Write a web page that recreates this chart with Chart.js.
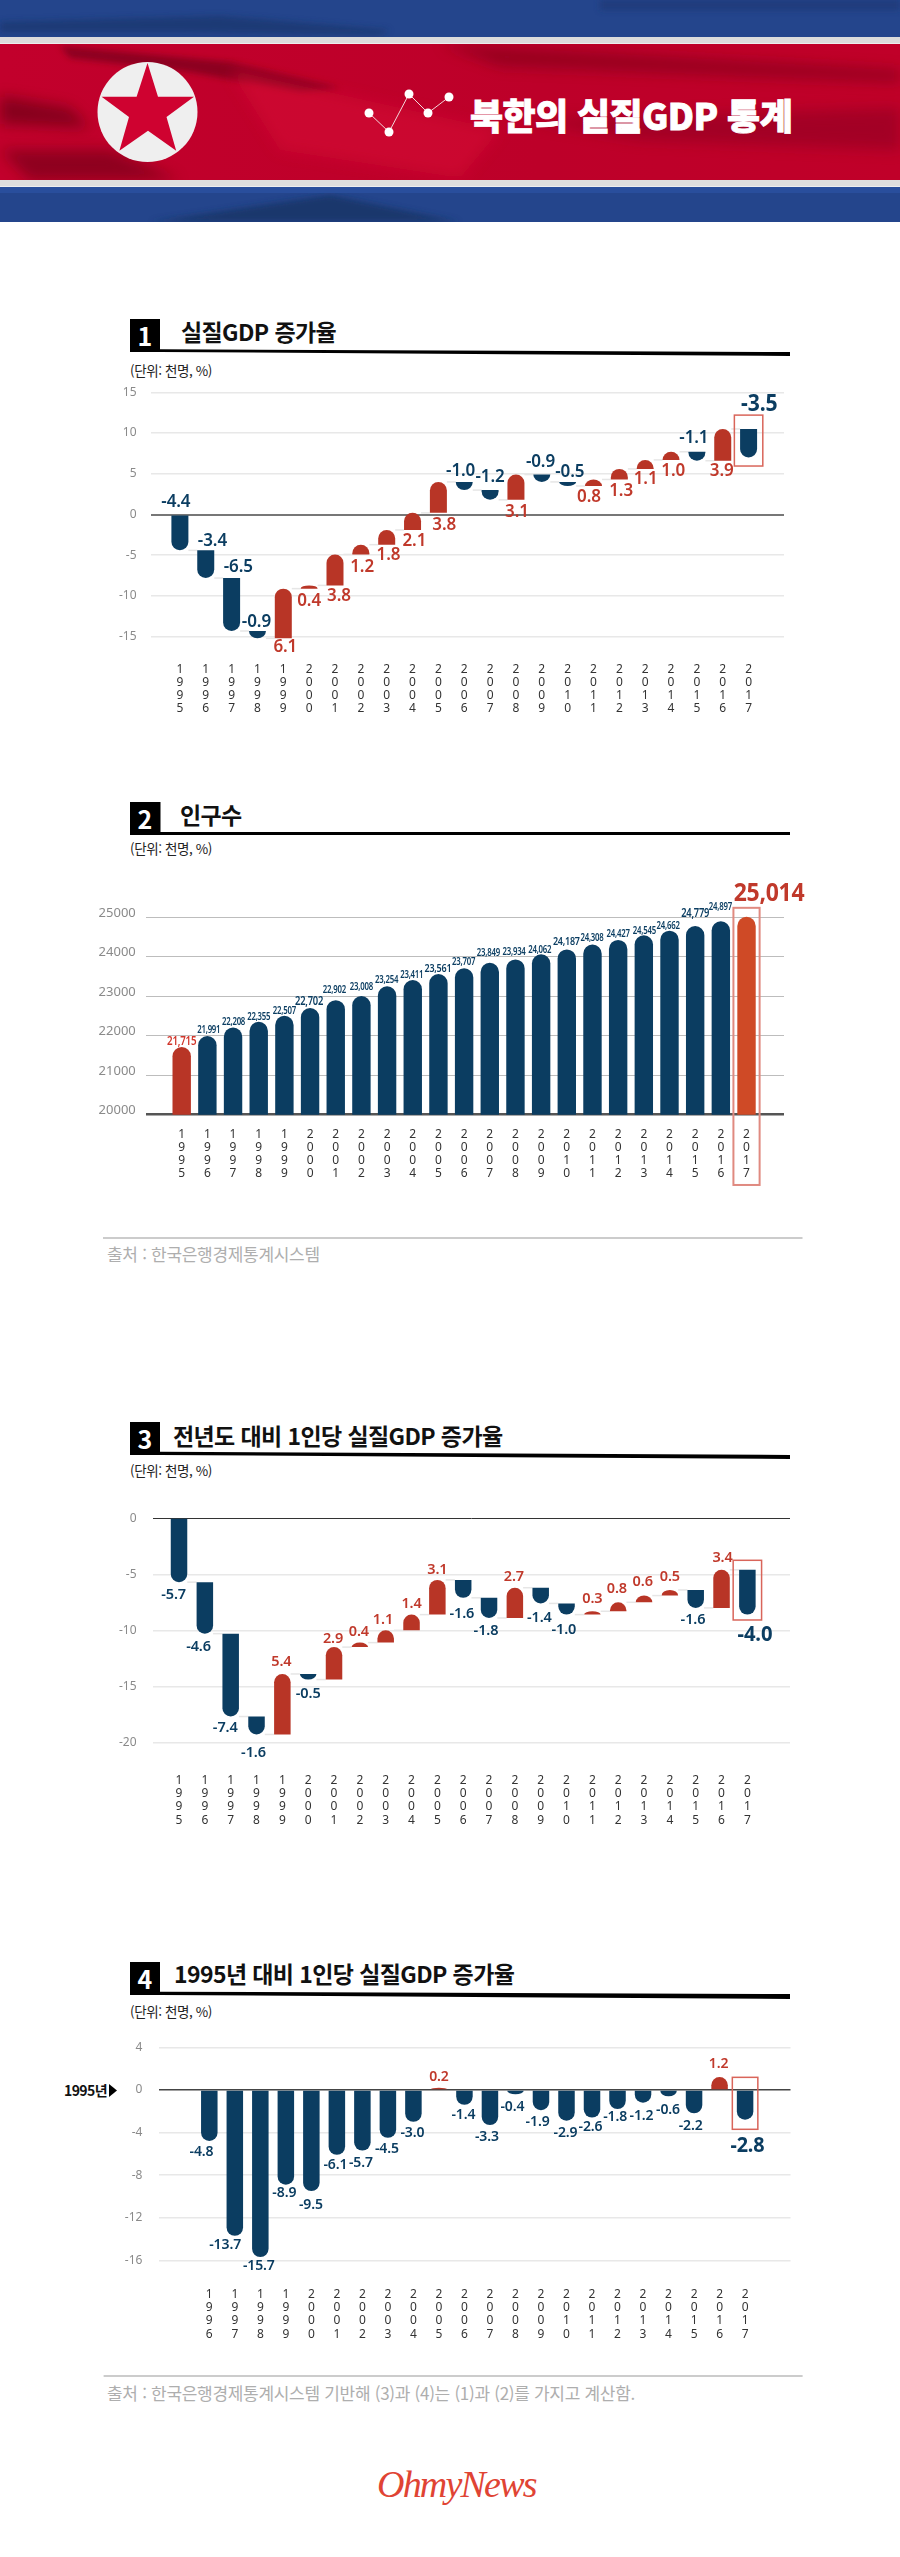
<!DOCTYPE html>
<html lang="ko">
<head>
<meta charset="utf-8">
<title>북한의 실질GDP 통계</title>
<script src="https://cdn.jsdelivr.net/npm/chart.js@4"></script>
<style>
  html, body { margin: 0; padding: 0; background: #fff; }
  body { position: relative; width: 900px; height: 2557px; overflow: hidden; font-family: "Noto Sans CJK KR", "Noto Sans", sans-serif; }
  canvas { position: absolute; left: 0; }
  svg.deco { position: absolute; left: 0; top: 0; }
  .t { position: absolute; white-space: nowrap; line-height: 1; }
  .num { color: #fff; font-weight: 700; font-size: 25px; width: 30px; text-align: center; left: 130px; }
  .head { color: #111; font-weight: 700; font-size: 23px; letter-spacing: -0.6px; }
  .unit { color: #222; font-size: 13.5px; left: 130px; letter-spacing: -0.4px; }
  .src { color: #aeaeae; font-size: 17px; left: 107px; letter-spacing: -0.3px; }
</style>
</head>
<body>
<svg class="deco" width="900" height="2557" viewBox="0 0 900 2557">
  <defs>
    <filter id="b1" x="-20%" y="-100%" width="140%" height="300%"><feGaussianBlur stdDeviation="7"/></filter>
    <filter id="b2" x="-20%" y="-100%" width="140%" height="300%"><feGaussianBlur stdDeviation="3"/></filter>
    <clipPath id="redClip"><rect x="0" y="44" width="900" height="136"/></clipPath>
    <clipPath id="topClip"><rect x="0" y="0" width="900" height="37"/></clipPath>
    <clipPath id="botClip"><rect x="0" y="187" width="900" height="35"/></clipPath>
    <linearGradient id="redBase" x1="0" y1="0" x2="1" y2="0">
      <stop offset="0" stop-color="#c2002c"/><stop offset="0.6" stop-color="#bd0029"/><stop offset="1" stop-color="#c00029"/>
    </linearGradient>
  </defs>
  <rect x="0" y="0" width="900" height="37" fill="#24458c"/>
  <rect x="0" y="187" width="900" height="35" fill="#24458c"/>
  <g clip-path="url(#topClip)">
    <path d="M0 22 L220 16 L390 30 L380 35 L180 32 L0 32 Z" fill="#173063" opacity=".55" filter="url(#b2)"/>
    <rect x="600" y="0" width="300" height="10" fill="#1c3670" opacity=".6" filter="url(#b2)"/>
  </g>
  <g clip-path="url(#botClip)">
    <path d="M150 222 L330 195 L460 222 Z" fill="#16305f" opacity=".7" filter="url(#b2)"/>
    <rect x="0" y="187" width="900" height="6" fill="#2c52a3" opacity=".7"/>
  </g>
  <rect x="0" y="37" width="900" height="6.5" fill="#dcdcdc"/>
  <rect x="0" y="180" width="900" height="6.5" fill="#dedede"/>
  <rect x="0" y="44" width="900" height="136" fill="url(#redBase)"/>
  <g clip-path="url(#redClip)">
    <path d="M60 46 L230 62 L340 88 L300 92 L190 72 L70 58 Z" fill="#7a001c" opacity=".75" filter="url(#b2)"/>
    <path d="M0 96 L70 108 L90 128 L0 124 Z" fill="#6d0019" opacity=".7" filter="url(#b1)"/>
    <path d="M0 150 L110 150 L180 180 L30 180 Z" fill="#6d0019" opacity=".6" filter="url(#b1)"/>
    <path d="M440 44 L900 70 L900 82 L500 66 Z" fill="#86001e" opacity=".7" filter="url(#b1)"/>
    <path d="M520 120 L900 108 L900 150 L640 140 Z" fill="#8c0020" opacity=".55" filter="url(#b1)"/>
    <path d="M230 70 L500 130 L460 178 L280 150 Z" fill="#d60a35" opacity=".55" filter="url(#b1)"/>
  </g>
  <circle cx="147.5" cy="112" r="50" fill="#efefef"/>
  <polygon points="147.5,63 158,96.7 194,96.7 166.5,117 176.2,150.7 148,130.7 119.4,150.7 129,117 101.6,96.7 136.6,96.7" fill="#cf0230"/>
  <polyline points="369,113 389,132 409,94 428,113 449,97" fill="none" stroke="#f3d6da" stroke-width="1"/>
  <g fill="#fff">
    <circle cx="369" cy="113" r="4.5"/><circle cx="389" cy="132" r="4.5"/><circle cx="409" cy="94" r="4.5"/><circle cx="428" cy="113" r="4.5"/><circle cx="449" cy="97" r="4.5"/>
  </g>
  <!-- section heads -->
  <rect x="130" y="319" width="30" height="33" fill="#000"/>
  <polygon points="160,349.3 790,352 790,356 160,352" fill="#000"/>
  <rect x="130" y="802" width="30.5" height="33" fill="#000"/>
  <rect x="160" y="832" width="630" height="3" fill="#000"/>
  <rect x="130" y="1422" width="30" height="33" fill="#000"/>
  <polygon points="160,1451.7 790,1455 790,1459 160,1455" fill="#000"/>
  <rect x="130" y="1962" width="30" height="33" fill="#000"/>
  <polygon points="160,1991.7 790,1994 790,1999 160,1995" fill="#000"/>
  <!-- footers -->
  <rect x="103" y="1237" width="699.5" height="2" fill="#ccc"/>
  <rect x="103.6" y="2375" width="699" height="2" fill="#ccc"/>
  <polygon points="109,2084 109,2097 117,2090.5" fill="#000"/>
</svg>

<div class="t" style="left:470px;top:96px;color:#fff;font-weight:900;font-size:36px;letter-spacing:-0.6px;-webkit-text-stroke:0.8px #fff">북한의 실질GDP 통계</div>

<div class="t num" style="top:323px">1</div>
<div class="t head" style="left:181px;top:320px">실질GDP 증가율</div>
<div class="t unit" style="top:364px">(단위: 천명, %)</div>

<div class="t num" style="top:806px">2</div>
<div class="t head" style="left:180px;top:803px">인구수</div>
<div class="t unit" style="top:842px">(단위: 천명, %)</div>
<div class="t src" style="top:1245px">출처 : 한국은행경제통계시스템</div>

<div class="t num" style="top:1426px">3</div>
<div class="t head" style="left:173px;top:1424px">전년도 대비 1인당 실질GDP 증가율</div>
<div class="t unit" style="top:1464px">(단위: 천명, %)</div>

<div class="t num" style="top:1966px">4</div>
<div class="t head" style="left:174px;top:1962px">1995년 대비 1인당 실질GDP 증가율</div>
<div class="t unit" style="top:2005px">(단위: 천명, %)</div>
<div class="t" style="left:64px;top:2083px;font-size:14px;font-weight:700;color:#111;letter-spacing:-0.6px">1995년</div>
<div class="t src" style="top:2384px">출처 : 한국은행경제통계시스템 기반해 (3)과 (4)는 (1)과 (2)를 가지고 계산함.</div>
<div class="t" style="left:377px;top:2462px;font:italic 38px 'Liberation Serif',serif;letter-spacing:-1.8px;color:#e04434">OhmyNews</div>

<canvas id="gdpChart" width="900" height="360" style="top:360px"></canvas>
<canvas id="popChart" width="900" height="330" style="top:870px"></canvas>
<canvas id="perCapitaChart" width="900" height="370" style="top:1470px"></canvas>
<canvas id="since1995Chart" width="900" height="350" style="top:2000px"></canvas>

<script>
const years = ['1995','1996','1997','1998','1999','2000','2001','2002','2003','2004','2005','2006','2007','2008','2009','2010','2011','2012','2013','2014','2015','2016','2017'];
const yearsFrom1996 = years.slice(1);

const gdpGrowth = [-4.4,-3.4,-6.5,-0.9,6.1,0.4,3.8,1.2,1.8,2.1,3.8,-1.0,-1.2,3.1,-0.9,-0.5,0.8,1.3,1.1,1.0,-1.1,3.9,-3.5];
const population = [21715,21991,22208,22355,22507,22702,22902,23008,23254,23411,23561,23707,23849,23934,24062,24187,24308,24427,24545,24662,24779,24897,25014];
const perCapitaGrowth = [-5.7,-4.6,-7.4,-1.6,5.4,-0.5,2.9,0.4,1.1,1.4,3.1,-1.6,-1.8,2.7,-1.4,-1.0,0.3,0.8,0.6,0.5,-1.6,3.4,-4.0];
const since1995 = [-4.8,-13.7,-15.7,-8.9,-9.5,-6.1,-5.7,-4.5,-3.0,0.2,-1.4,-3.3,-0.4,-1.9,-2.9,-2.6,-1.8,-1.2,-0.6,-2.2,1.2,-2.8];

// label offsets from the bar, px. hand placed, the original has no rule for them
const gdpNudgeX = [-4,6.7,6.7,-1,2,0,4,1.3,1.8,1.8,5.8,-3.6,0,1,-1.3,2.2,-4.5,1.8,0.4,2.2,-3,-1,10.7];
const gdpNudgeY = [-12.3,-8.7,-10.7,-8.7,9,13,10.3,12.7,10.3,11.3,12.3,-10.7,-13,12.7,-12,-9.3,11,12,10.3,11.3,-13.7,10.3,-25];
const popNudgeX = [0,1.4,0.5,0,0,-1,-1.4,0,-0.5,-1,-0.5,-0.5,-1.4,-1.4,-1.4,-0.5,-0.5,0,0.5,-1.4,0,-0.5,22.5];
const popNudgeY = [-5.3,-5.8,-5.7,-4.7,-4.7,-6.7,-10.3,-9,-6.3,-5.2,-5,-6.3,-10,-7.2,-4.3,-7.2,-6.7,-6,-4.3,-4.7,-12.7,-14.7,-23];
const popLabelSize = [12.5,10,10,10,10,12,10,10,10,10,11.5,10,10,10,10,11.5,10,10,10,10,12,10,25];
const perCapitaNudgeX = [-5.4,-6.3,-5.4,-3,-1,0,-1,-1,-2.7,0,0,-1.3,-3,-1,-1.3,-2.7,0,-1.3,-1.3,0,-2.7,1,7.6];
const perCapitaNudgeY = [12.3,13.3,11.3,18.7,-11.7,14.3,-8,-10.7,-10.3,-10.7,-10,15.7,13,-10.7,14.7,15,-12.3,-13.3,-13.7,-13,12,-12,20];
const since1995NudgeX = [-7.8,-9.7,-1.5,-1.5,-0.5,-1.5,-1.5,-1,-1,0,-1,-3,-3,-3.4,-1,-1.5,-2.4,-1.5,-0.5,-3.4,-1,2.4];
const since1995NudgeY = [11,9.3,9,8.3,14.3,9.7,12,10.7,10.7,-10.7,10.7,12.3,13.3,12.3,12.3,9,8.3,13,13.3,12.3,-12.7,26];

const NAVY = '#0b3d61';
const RED = '#b83526';
const ORANGE = '#cf4a26';

// running total of the yearly changes, each bar floats from the last level
function stepBars(changes) {
  let level = 0;
  return changes.map(v => {
    const from = level;
    level = Math.round((level + v) * 10) / 10;
    return [from, level];
  });
}

// bars only get a round cap on the end they grow to
Chart.BarElement.prototype.draw = function (ctx) {
  const { x, y, base, width } = this.getProps(['x', 'y', 'base', 'width']);
  const [from, to] = this.$context.raw.y;
  const top = Math.min(y, base), bottom = Math.max(y, base);
  const r = width / 2;
  const ry = Math.min(r, bottom - top);
  ctx.save();
  ctx.fillStyle = this.options.backgroundColor;
  ctx.beginPath();
  if (to >= from) {
    ctx.moveTo(x - r, bottom);
    ctx.lineTo(x - r, top + ry);
    ctx.ellipse(x, top + ry, r, ry, 0, Math.PI, Math.PI * 2);
    ctx.lineTo(x + r, bottom);
  } else {
    ctx.moveTo(x - r, top);
    ctx.lineTo(x - r, bottom - ry);
    ctx.ellipse(x, bottom - ry, r, ry, 0, Math.PI, 0, true);
    ctx.lineTo(x + r, top);
  }
  ctx.closePath();
  ctx.fill();
  ctx.restore();
};

const extras = {
  id: 'extras',
  beforeDatasetsDraw(chart, args, opts) {
    if (!opts.steps) return;
    const { x: xs, y: ys } = chart.scales;
    const ctx = chart.ctx;
    const half = chart.data.datasets[0].barThickness / 2;
    ctx.save();
    ctx.strokeStyle = '#e6e6e6';
    ctx.lineWidth = 1.5;
    opts.steps.slice(0, -1).forEach((b, i) => {
      const py = ys.getPixelForValue(b[1]);
      ctx.beginPath();
      ctx.moveTo(xs.getPixelForValue(i) + half, py);
      ctx.lineTo(xs.getPixelForValue(i + 1) - half, py);
      ctx.stroke();
    });
    ctx.restore();
  },
  afterDatasetsDraw(chart, args, opts) {
    const { x: xs, y: ys } = chart.scales;
    const ctx = chart.ctx;
    const bars = chart.getDatasetMeta(0).data;
    const raw = chart.data.datasets[0].data;

    // red frame on the latest year
    const b = opts.box;
    ctx.save();
    ctx.strokeStyle = b.color;
    ctx.lineWidth = b.width;
    ctx.strokeRect(xs.getPixelForValue(b.xMin), ys.getPixelForValue(b.yMax),
      xs.getPixelForValue(b.xMax) - xs.getPixelForValue(b.xMin),
      ys.getPixelForValue(b.yMin) - ys.getPixelForValue(b.yMax));

    ctx.textAlign = 'center';
    ctx.textBaseline = 'middle';
    opts.texts.forEach((text, i) => {
      const [from, to] = raw[i].y;
      const anchor = opts.anchor === 'start' ? from : to;
      const last = i === opts.texts.length - 1;
      const size = opts.sizes ? opts.sizes[i] : (last ? opts.bigSize : opts.size);
      const squeeze = size > 20 ? 0.92 : (opts.squeeze || 1);
      ctx.save();
      ctx.translate(bars[i].x + opts.nudgeX[i], ys.getPixelForValue(anchor) + opts.nudgeY[i]);
      ctx.scale(squeeze, 1);
      ctx.font = `${size > 20 ? 700 : 600} ${size}px "Noto Sans", sans-serif`;
      ctx.letterSpacing = opts.squeeze ? '-0.3px' : '-0.1px';
      ctx.fillStyle = opts.colors(i);
      ctx.fillText(text, 0, 0);
      ctx.restore();
    });
    ctx.restore();
  }
};

function drawChart(id, c) {
  const el = document.getElementById(id);
  const top = parseFloat(el.style.top);
  const bars = c.bars.map((y, i) => ({ x: i, y }));
  const wantTop = c.gridTop - top, wantBottom = c.gridBottom - top;
  const chart = new Chart(el.getContext('2d'), {
    type: 'bar',
    data: {
      datasets: [{
        data: bars,
        backgroundColor: ctx => c.barColor(ctx.dataIndex, ctx.raw.y),
        barThickness: c.barWidth,
        clip: false
      }]
    },
    options: {
      responsive: false,
      animation: false,
      events: [],
      layout: { autoPadding: false, padding: { left: 0, right: 900 - c.gridRight, top: wantTop, bottom: 0 } },
      scales: {
        x: {
          type: 'linear',
          offset: false,
          min: c.xMin,
          max: c.xMax,
          grid: { display: false },
          border: { display: false },
          afterFit: s => { s.height = el.height - wantBottom; },
          ticks: {
            stepSize: 1,
            includeBounds: false,
            autoSkip: false,
            maxRotation: 0,
            padding: c.yearPad,
            color: '#333',
            font: { family: '"Noto Sans", sans-serif', size: 12, lineHeight: 1.09 },
            callback: v => c.labels[v] ? c.labels[v].split('') : ''
          }
        },
        y: {
          min: c.yMin,
          max: c.yMax,
          grid: {
            drawTicks: false,
            color: c.gridColor,
            lineWidth: c.gridWidth
          },
          border: { display: false },
          afterFit: s => { s.width = c.gridLeft; },
          ticks: {
            stepSize: c.yStep,
            padding: c.tickPad,
            labelOffset: c.tickShift || 0,
            color: '#8a8a8a',
            font: { family: '"Noto Sans", sans-serif', size: c.tickSize || 12 },
            callback: v => String(v)
          }
        }
      },
      plugins: {
        legend: { display: false },
        tooltip: { enabled: false },
        extras: { steps: c.steps, box: c.box, texts: c.texts, colors: c.textColor, nudgeX: c.nudgeX, nudgeY: c.nudgeY, anchor: c.anchor, size: c.size, bigSize: c.bigSize, sizes: c.sizes, squeeze: c.squeeze }
      }
    },
    plugins: [extras]
  });

  // layout still pushes the area in for tick labels, so take that back out
  const pad = chart.options.layout.padding;
  pad.top += wantTop - chart.chartArea.top;
  pad.bottom += chart.chartArea.bottom - wantBottom;
  pad.left += c.gridLeft - chart.chartArea.left;
  pad.right += chart.chartArea.right - c.gridRight;
  chart.update();
  return chart;
}

const signColor = (i, y) => y[1] >= y[0] ? RED : NAVY;
const fixed1 = v => v.toFixed(1);

const gdpBars = stepBars(gdpGrowth);
drawChart('gdpChart', {
  labels: years, bars: gdpBars, steps: gdpBars, barWidth: 17, barColor: signColor,
  gridLeft: 151, gridRight: 784, gridTop: 392.3, gridBottom: 636.7, xMin: -1.118, xMax: 23.37,
  yMin: -15, yMax: 15, yStep: 5, tickPad: 14.4, yearPad: 18,
  gridColor: t => t.tick.value === 0 ? '#777' : '#e8e8e8', gridWidth: t => t.tick.value === 0 ? 2 : 1.5,
  box: { xMin: 21.45, xMax: 22.55, yMin: 5.95, yMax: 12.2, color: '#d9655a', width: 1.5 },
  texts: gdpGrowth.map(fixed1), textColor: i => gdpGrowth[i] >= 0 ? '#c0392b' : NAVY,
  nudgeX: gdpNudgeX, nudgeY: gdpNudgeY, anchor: 'start', size: 17, bigSize: 23
});

drawChart('popChart', {
  labels: years, bars: population.map(v => [20000, v]), barWidth: 18.4,
  barColor: i => i === 0 ? RED : i === population.length - 1 ? ORANGE : NAVY,
  gridLeft: 146.4, gridRight: 784, gridTop: 917.3, gridBottom: 1114.7, xMin: -1.375, xMax: 23.46,
  yMin: 20000, yMax: 25000, yStep: 1000, tickPad: 10.6, tickShift: -4, tickSize: 13, yearPad: 5.5,
  gridColor: t => t.tick.value === 20000 ? '#555' : '#bdbdbd', gridWidth: t => t.tick.value === 20000 ? 2.5 : 1,
  box: { xMin: 21.49, xMax: 22.51, yMin: 18220, yMax: 25240, color: '#e08a80', width: 2 },
  texts: population.map(v => v.toLocaleString('en-US')),
  textColor: i => i === 0 ? '#d1362b' : i === population.length - 1 ? '#c0392b' : NAVY,
  nudgeX: popNudgeX, nudgeY: popNudgeY, anchor: 'end', sizes: popLabelSize, squeeze: 0.78
});

const perCapitaBars = stepBars(perCapitaGrowth);
drawChart('perCapitaChart', {
  labels: years, bars: perCapitaBars, steps: perCapitaBars, barWidth: 16.5, barColor: signColor,
  gridLeft: 153, gridRight: 790, gridTop: 1518.3, gridBottom: 1742.3, xMin: -1.007, xMax: 23.65,
  yMin: -20, yMax: 0, yStep: 5, tickPad: 16.4, yearPad: 24,
  gridColor: t => t.tick.value === 0 ? '#333' : '#e8e8e8', gridWidth: t => t.tick.value === 0 ? 1 : 1.5,
  box: { xMin: 21.45, xMax: 22.55, yMin: -9.08, yMax: -3.75, color: '#d9655a', width: 1.5 },
  texts: perCapitaGrowth.map(fixed1), textColor: i => perCapitaGrowth[i] >= 0 ? '#c0392b' : NAVY,
  nudgeX: perCapitaNudgeX, nudgeY: perCapitaNudgeY, anchor: 'end', size: 14.5, bigSize: 22
});

drawChart('since1995Chart', {
  labels: yearsFrom1996, bars: since1995.map(v => [0, v]), barWidth: 16.5, barColor: signColor,
  gridLeft: 159.4, gridRight: 790.5, gridTop: 2047.3, gridBottom: 2260.3, xMin: -1.956, xMax: 22.78,
  yMin: -16, yMax: 4, yStep: 4, tickPad: 17, yearPad: 20,
  gridColor: t => t.tick.value === 0 ? '#444' : '#e8e8e8', gridWidth: 1.5,
  box: { xMin: 20.5, xMax: 21.5, yMin: -3.7, yMax: 1.18, color: '#d9655a', width: 1.5 },
  texts: since1995.map(fixed1), textColor: i => since1995[i] >= 0 ? '#c0392b' : NAVY,
  nudgeX: since1995NudgeX, nudgeY: since1995NudgeY, anchor: 'end', size: 14, bigSize: 21.5
});
</script>
</body>
</html>
